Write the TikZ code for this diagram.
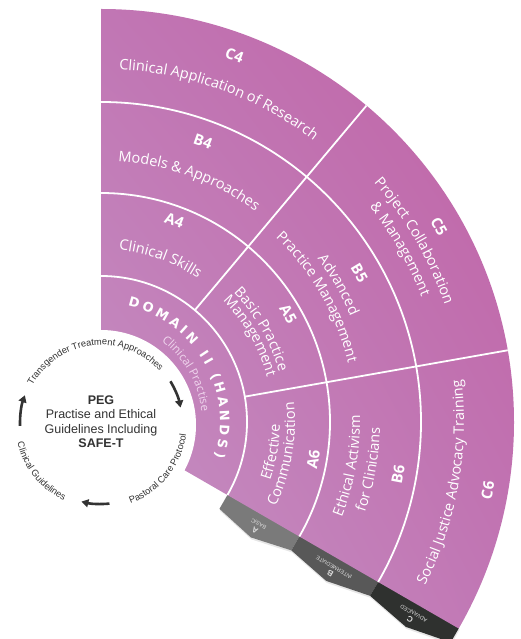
\documentclass[tikz,border=0pt]{standalone}
\usepackage{fontspec}
\setmainfont{Open Sans}
\newfontfamily\pegfont{Liberation Sans}
\newfontfamily\domfont{DejaVu Sans}
\usepackage{xcolor}
\usetikzlibrary{calc,arrows.meta,decorations.text,shadings,shadows}

\definecolor{fanlight}{RGB}{197,148,197}
\definecolor{fanmid}{RGB}{193,118,180}
\definecolor{fandark}{RGB}{192,98,165}
\definecolor{tabA}{RGB}{122,122,122}
\definecolor{tabB}{RGB}{88,88,88}
\definecolor{tabC}{RGB}{47,49,47}
\definecolor{tabtext}{RGB}{220,220,220}
\definecolor{pegtext}{RGB}{51,51,51}
\definecolor{practise}{RGB}{240,214,238}

\newcommand{\codefont}{\bfseries\fontsize{15}{18}\selectfont}
\newcommand{\lblfont}{\fontsize{14.5}{17}\selectfont}

% label on an arc, read clockwise (tops outward)
\newcommand{\cwtext}[4]{%
  \pgfmathsetmacro{\arcfrom}{#1+50}\pgfmathsetmacro{\arcto}{#1-50}%
  \path[decorate, decoration={text along path, text align=center, text color=white, text={|#3|#4}}] (\arcfrom:#2) arc (\arcfrom:\arcto:#2);}
% label on an arc, read counter-clockwise (tops inward)
\newcommand{\ccwtext}[4]{%
  \pgfmathsetmacro{\arcfrom}{#1-50}\pgfmathsetmacro{\arcto}{#1+50}%
  \path[decorate, decoration={text along path, text align=center, text color=white, text={|#3|#4}}] (\arcfrom:#2) arc (\arcfrom:\arcto:#2);}

\tikzset{
  divider/.style={white, line width=1.8pt},
  pegarrow/.style={pegtext, line width=2.6pt, -{Triangle[length=7pt,width=8pt]}},
  tabshape/.style={drop shadow={opacity=0.2, shadow xshift=0.5pt, shadow yshift=-2pt}},
  tablabel/.style={font=\pegfont\fontsize{5.5}{6.5}\selectfont, text=tabtext, align=center, inner sep=0pt, transform shape, rotate=180},
  ringtext/.style={decorate, decoration={text along path, text align=center, text color=pegtext, text={|\pegfont\fontsize{9.3}{11}\selectfont|#1}}}
}

\begin{document}
\begin{tikzpicture}[x=1pt,y=1pt]
    \useasboundingbox (-101,-217) rectangle (420,422);
    \coordinate (pegc) at (0,-1);

    % Level tabs
    \begin{scope}[rotate=-30]
        \foreach \ra/\rb/\col/\code/\lvl in {146/229/tabA/A/BASIC,229/320/tabB/B/INTERMEDIATE,320/413/tabC/C/ADVANCED} {
            \fill[\col, tabshape] (\ra,1) -- (\ra,-16) -- ({(\ra+\rb)/2},-25) -- (\rb,-16) -- (\rb,1) -- cycle;
            \node[tablabel] (tab\code) at ({(\ra+\rb)/2},-13.5) {{\fontsize{8}{8}\selectfont\bfseries\code}\\\lvl};
        }
    \end{scope}

    % Fan
    \begin{scope}
        \clip (0,0) -- (90:413) arc (90:-30:413) -- cycle;
        \shade[upper left=fanmid, upper right=fandark, lower left=fanlight, lower right=fanmid] (0,-210) rectangle (415,415);
    \end{scope}
    \foreach \r in {146,229,320} \draw[divider] (90:\r) arc (90:-30:\r);
    \foreach \a in {50,10} \draw[divider] (\a:146) -- (\a:413);

    % PEG disc
    \fill[white] (0,-3) circle (95);

    % Domain ring
    \path[decorate, decoration={text along path, text align={fit to path}, text color=white,
        text={|\domfont\bfseries\fontsize{13}{15}\selectfont|DOMAIN II (HANDS)}}] (77:119) arc (77:-17:119);
    \path[decorate, decoration={text along path, text align=center, text color=practise,
        text={|\fontsize{11.5}{14}\selectfont|Clinical Practise}}] (79.5:101) arc (79.5:-20.5:101);

    % Column 4
    \cwtext{70}{385}{\codefont}{C4}
    \cwtext{70}{353}{\lblfont}{Clinical Application of Research}
    \cwtext{70}{293}{\codefont}{B4}
    \cwtext{70}{261}{\lblfont}{Models {\&} Approaches}
    \cwtext{70}{209}{\codefont}{A4}
    \cwtext{70}{173}{\lblfont}{Clinical Skills}

    % Column 5
    \cwtext{30}{385}{\codefont}{C5}
    \cwtext{30}{363}{\lblfont}{Project Collaboration}
    \cwtext{30}{344}{\lblfont}{{\&} Management}
    \cwtext{30}{293}{\codefont}{B5}
    \cwtext{30}{271}{\lblfont}{Advanced}
    \cwtext{30}{254}{\lblfont}{Practice Management}
    \cwtext{30}{211}{\codefont}{A5}
    \cwtext{30}{185}{\lblfont}{Basic Practice}
    \cwtext{30}{172}{\lblfont}{Management}

    % Column 6
    \ccwtext{-10}{179}{\lblfont}{Effective}
    \ccwtext{-10}{194}{\lblfont}{Communication}
    \ccwtext{-10}{221}{\codefont}{A6}
    \ccwtext{-10}{259}{\lblfont}{Ethical Activism}
    \ccwtext{-10}{279}{\lblfont}{for Clinicians}
    \ccwtext{-10}{307}{\codefont}{B6}
    \ccwtext{-10}{363}{\lblfont}{Social Justice Advocacy Training}
    \ccwtext{-10}{398}{\codefont}{C6}

    % PEG centre
    \node[align=center, font=\pegfont\fontsize{12.5}{14.5}\selectfont, text=pegtext] (peg) at (0,0.5)
        {\textbf{PEG}\\Practise and Ethical\\Guidelines Including\\\textbf{SAFE-T}};
    \path[ringtext={Transgender Treatment Approaches}] ($(pegc)+(166.5:78)$) arc (166.5:26.5:78);
    \path[ringtext={Pastoral Care Protocol}] ($(pegc)+(-103.75:86)$) arc (-103.75:26.25:86);
    \path[ringtext={Clinical Guidelines}] ($(pegc)+(168.85:86)$) arc (168.85:268.85:86);
    \draw[pegarrow] ($(pegc)+(31:81)$) arc (31:11:81);
    \draw[pegarrow] ($(pegc)+(-84:81)$) arc (-84:-104:81);
    \draw[pegarrow] ($(pegc)+(182:81)$) arc (182:160:81);
\end{tikzpicture}
\end{document}
